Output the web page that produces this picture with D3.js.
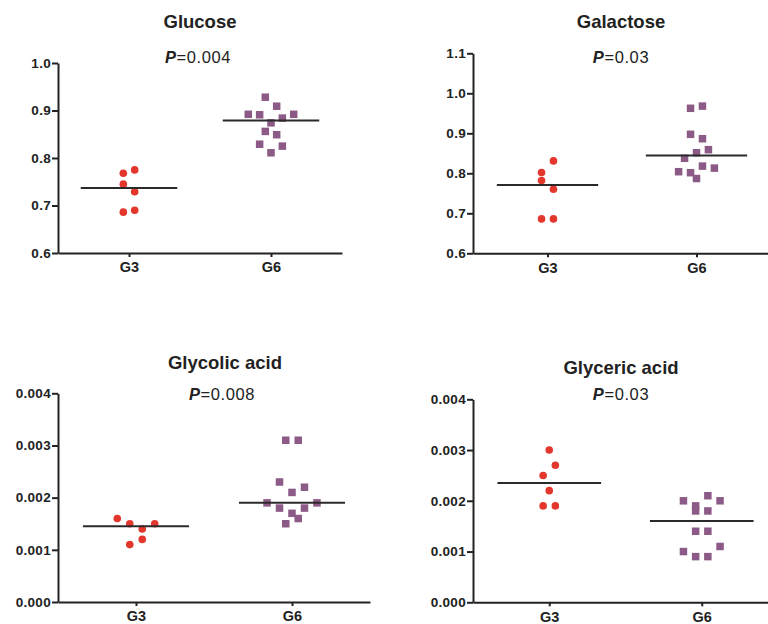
<!DOCTYPE html>
<html><head><meta charset="utf-8">
<script src="https://cdn.jsdelivr.net/npm/d3@7"></script>
<style>body{margin:0;background:#fff}</style>
</head><body>
<svg id="chart" width="768" height="624"></svg>
<script>
// ---------- data ----------
const categories = ["G3", "G6"];
const titles = ["Glucose", "Galactose", "Glycolic acid", "Glyceric acid"];
const pValues = ["0.004", "0.03", "0.008", "0.03"];

const glucoseG3 = [0.775, 0.768, 0.729, 0.745, 0.690, 0.686];
const glucoseG6 = [0.909, 0.928, 0.874, 0.884, 0.891, 0.892, 0.892, 0.849, 0.856, 0.811, 0.825, 0.829];
const galactoseG3 = [0.831, 0.802, 0.760, 0.782, 0.686, 0.686];
const galactoseG6 = [0.968, 0.9625, 0.8865, 0.8975, 0.8515, 0.859, 0.8375, 0.818, 0.8015, 0.813, 0.804, 0.787];
const glycolicG3 = [0.0014, 0.0015, 0.0015, 0.0016, 0.0012, 0.0011];
const glycolicG6 = [0.0031, 0.0031, 0.0021, 0.0022, 0.0023, 0.0017, 0.0018, 0.0018, 0.0019, 0.0019, 0.0016, 0.0015];
const glycericG3 = [0.0030, 0.0027, 0.0025, 0.0022, 0.0019, 0.0019];
const glycericG6 = [0.0021, 0.0019, 0.0020, 0.0020, 0.0018, 0.0018, 0.0014, 0.0014, 0.0009, 0.0009, 0.0011, 0.0010];

const ticksGlucose = [0.6, 0.7, 0.8, 0.9, 1.0];
const ticksGalactose = [0.6, 0.7, 0.8, 0.9, 1.0, 1.1];
const ticksAcid = [0, 0.001, 0.002, 0.003, 0.004];
const tickFormats = [".1f", ".1f", ".3f", ".3f"];

// ---------- layout ----------
const layout = [
  {x0: 58,  x1: 342, yTop: 63,    yBot: 253,   tx: 200, ty: 28,  px: 198, py: 63},
  {x0: 473, x1: 771, yTop: 53.3,  yBot: 253.3, tx: 621, ty: 28,  px: 621, py: 63},
  {x0: 58,  x1: 370, yTop: 393.3, yBot: 602,   tx: 225, ty: 369, px: 222, py: 400},
  {x0: 473, x1: 778, yTop: 399.3, yBot: 602.3, tx: 621, ty: 374, px: 621, py: 400}
];
const series = [
  [glucoseG3, glucoseG6],
  [galactoseG3, galactoseG6],
  [glycolicG3, glycolicG6],
  [glycericG3, glycericG6]
];
const tickSets = [ticksGlucose, ticksGalactose, ticksAcid, ticksAcid];

const RED = "#e3362c", PURPLE = "#8c5a86", INK = "#222222";
const FONT = "'Liberation Sans', Arial, Helvetica, sans-serif";

// GraphPad-like scatter spreading: group points into rows, spread center-out
function swarm(values, y, step, thr) {
  const idx = values.map((v, i) => i).sort((a, b) => (y(values[a]) - y(values[b])) || (a - b));
  const rows = [];
  let cur = null;
  idx.forEach(i => {
    const py = y(values[i]);
    if (cur && py - cur.start < thr) cur.items.push(i);
    else { cur = {start: py, items: [i]}; rows.push(cur); }
  });
  const off = new Array(values.length);
  rows.forEach(r => {
    const items = r.items.slice().sort((a, b) => a - b);
    const n = items.length;
    items.forEach((i, k) => {
      let s;
      if (n % 2) s = k === 0 ? 0 : (k % 2 ? (k + 1) / 2 : -k / 2);
      else { const m = Math.floor(k / 2) + 0.5; s = k % 2 === 0 ? m : -m; }
      off[i] = s * step;
    });
  });
  return off;
}

const svg = d3.select("#chart");

layout.forEach((L, p) => {
  const ticks = tickSets[p];
  const y = d3.scaleLinear().domain(d3.extent(ticks)).range([L.yBot, L.yTop]);
  const x = d3.scalePoint().domain(categories).range([L.x0, L.x1]).padding(0.5);
  const g = svg.append("g");

  // title
  g.append("text").attr("x", L.tx).attr("y", L.ty).attr("text-anchor", "middle")
    .attr("font-family", FONT).attr("font-weight", "bold").attr("font-size", 18.5)
    .attr("fill", INK).text(titles[p]);
  const pt = g.append("text").attr("x", L.px).attr("y", L.py).attr("text-anchor", "middle")
    .attr("font-family", FONT).attr("font-size", 16.5).attr("letter-spacing", 0.6).attr("fill", INK);
  pt.append("tspan").attr("font-style", "italic").attr("font-weight", "bold").text("P");
  pt.append("tspan").text("=" + pValues[p]);

  // y axis
  const ya = g.append("g").attr("transform", `translate(${L.x0},0)`)
    .call(d3.axisLeft(y).tickValues(ticks).tickSize(6).tickSizeOuter(0).tickPadding(1)
      .tickFormat(d3.format(tickFormats[p])));
  // x axis
  const xa = g.append("g").attr("transform", `translate(0,${L.yBot})`)
    .call(d3.axisBottom(x).tickSize(4).tickSizeOuter(0).tickPadding(5));
  [ya, xa].forEach(a => {
    a.select(".domain").attr("stroke", INK).attr("stroke-width", 2);
    a.selectAll(".tick line").attr("stroke", INK).attr("stroke-width", 2);
    a.selectAll("text").attr("fill", INK).attr("font-family", FONT).attr("font-weight", "bold");
  });
  ya.selectAll("text").attr("font-size", 13.5).attr("letter-spacing", 0.3);
  xa.selectAll("text").attr("font-size", 14.5);

  // points
  const step = (L.x1 - L.x0) / 25;
  const lineW = (L.x1 - L.x0) * 0.34;
  series[p].forEach((vals, gi) => {
    const cx = x(categories[gi]);
    const off = swarm(vals, y, step, 12);
    if (gi === 0) {
      g.append("g").selectAll("circle").data(vals).join("circle")
        .attr("cx", (d, i) => cx + off[i]).attr("cy", d => y(d)).attr("r", 3.8).attr("fill", RED);
    } else {
      const s = 7.5;
      g.append("g").selectAll("rect").data(vals).join("rect")
        .attr("x", (d, i) => cx + off[i] - s / 2).attr("y", d => y(d) - s / 2)
        .attr("width", s).attr("height", s).attr("fill", PURPLE);
    }
    const med = d3.median(vals);
    g.append("line").attr("x1", cx - lineW / 2).attr("x2", cx + lineW / 2)
      .attr("y1", y(med)).attr("y2", y(med)).attr("stroke", "#2a2a2a").attr("stroke-width", 2);
  });
});
</script>
</body></html>
